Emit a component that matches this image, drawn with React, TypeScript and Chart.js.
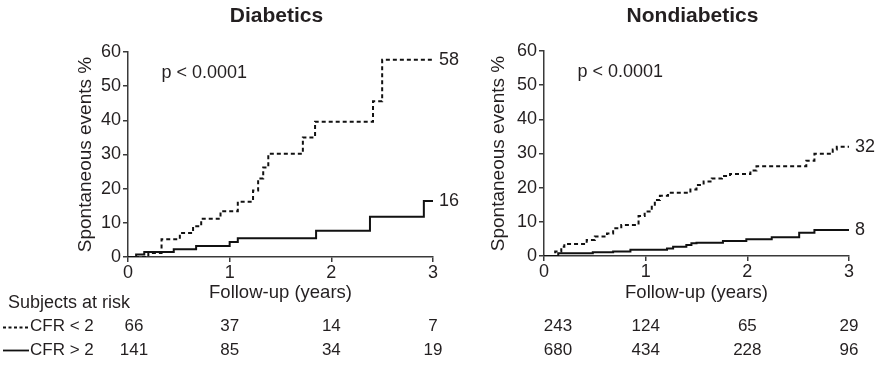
import React, { useEffect, useRef } from "react";
import { Chart, registerables } from "chart.js";

Chart.register(...registerables);

// ---------- data ----------
const yearTicks = [0, 1, 2, 3];

// Diabetics, CFR < 2 (dashed)
const diabLowT = [0, 0.2, 0.33, 0.51, 0.64, 0.72, 0.91, 1.08, 1.23, 1.28, 1.33, 1.38, 1.72, 1.84, 2.41, 2.5, 3.0];
const diabLowY = [0, 1.2, 5.2, 7.0, 9.0, 11.2, 13.4, 16.2, 19.5, 23.0, 26.2, 30.2, 35.0, 39.6, 45.6, 57.7, 57.7];
// Diabetics, CFR > 2 (solid)
const diabHighT = [0, 0.08, 0.16, 0.45, 0.67, 1.0, 1.08, 1.85, 2.38, 2.91, 3.0];
const diabHighY = [0, 0.7, 1.5, 2.3, 3.2, 4.4, 5.5, 7.7, 11.8, 16.4, 16.4];

// Nondiabetics, CFR < 2 (dashed)
const nonLowT = [0, 0.11, 0.17, 0.2, 0.42, 0.5, 0.62, 0.68, 0.76, 0.93, 0.99, 1.06, 1.09, 1.14, 1.22, 1.44, 1.5, 1.57, 1.65, 1.75, 1.83, 2.03, 2.09, 2.58, 2.66, 2.84, 2.88, 3.0];
const nonLowY = [0, 1.3, 2.7, 3.5, 4.7, 5.7, 6.6, 8.1, 9.1, 11.7, 13.0, 14.4, 16.4, 17.6, 18.5, 19.5, 20.8, 21.8, 22.7, 23.4, 24.0, 25.0, 26.3, 27.9, 29.9, 31.2, 32.0, 32.0];
// Nondiabetics, CFR > 2 (solid)
const nonHighT = [0, 0.14, 0.48, 0.68, 0.85, 1.21, 1.27, 1.4, 1.45, 1.5, 1.76, 1.99, 2.24, 2.51, 2.66, 3.0];
const nonHighY = [0, 0.8, 1.1, 1.3, 1.8, 2.2, 2.7, 3.2, 3.7, 3.9, 4.4, 4.9, 5.5, 6.8, 7.6, 7.6];

const endLabelsDiab = ["58", "16"];
const endLabelsNon = ["32", "8"];

const riskDiabLow = [66, 37, 14, 7];
const riskDiabHigh = [141, 85, 34, 19];
const riskNonLow = [243, 124, 65, 29];
const riskNonHigh = [680, 434, 228, 96];

const pText = "p < 0.0001";
const groupLabels = ["CFR < 2", "CFR > 2"];

// ---------- styling ----------
const FONT = "'Liberation Sans', Arial, Helvetica, sans-serif";
const INK = "#231f20";
const AXIS = "#3a3a3a";
const DASH = [4, 3];

type Panel = {
  title: string;
  lowT: number[];
  lowY: number[];
  highT: number[];
  highY: number[];
  endLabels: string[];
  riskLow: number[];
  riskHigh: number[];
  canvasWidth: number;
  padRight: number;
  padTop: number;
  yWidth: number;
  xHeight: number;
  yTitlePad: number;
  firstColOffset: number;
  showLegend: boolean;
};

const toPts = (t: number[], v: number[]) => t.map((x, i) => ({ x, y: v[i] }));

function buildChart(canvas: HTMLCanvasElement, p: Panel) {
  const extras = {
    id: "kmExtras",
    afterDraw(chart: any) {
      const { ctx, chartArea } = chart;
      const xs = chart.scales.x;
      const ys = chart.scales.y;
      ctx.save();
      ctx.fillStyle = INK;
      ctx.textBaseline = "middle";

      // panel title
      ctx.font = `bold 21px ${FONT}`;
      ctx.textAlign = "center";
      ctx.fillText(p.title, (chartArea.left + chartArea.right) / 2 - 4, 16);

      // p-value
      ctx.font = `18px ${FONT}`;
      ctx.textAlign = "left";
      ctx.fillText(pText, xs.getPixelForValue(0.33), ys.getPixelForValue(53.8));

      // end labels
      const ends = [
        [p.lowT[p.lowT.length - 1], p.lowY[p.lowY.length - 1]],
        [p.highT[p.highT.length - 1], p.highY[p.highY.length - 1]],
      ];
      ends.forEach(([t, v], i) => {
        ctx.fillText(p.endLabels[i], xs.getPixelForValue(t) + 6, ys.getPixelForValue(v));
      });

      // risk table numbers
      ctx.font = `17px ${FONT}`;
      ctx.textAlign = "center";
      const rowsY = [326.5, 350.5];
      [p.riskLow, p.riskHigh].forEach((row, r) => {
        row.forEach((n, i) => {
          const px = xs.getPixelForValue(yearTicks[i]) + (i === 0 ? p.firstColOffset : 0);
          ctx.fillText(String(n), px, rowsY[r]);
        });
      });

      if (p.showLegend) {
        ctx.textAlign = "left";
        ctx.font = `18px ${FONT}`;
        ctx.fillText("Subjects at risk", 8, 303.5);
        ctx.font = `17px ${FONT}`;
        ctx.fillText(groupLabels[0], 30, rowsY[0]);
        ctx.fillText(groupLabels[1], 30, rowsY[1]);
        ctx.strokeStyle = "#111";
        ctx.lineWidth = 1.8;
        ctx.setLineDash([3, 2.5]);
        ctx.beginPath();
        ctx.moveTo(3, rowsY[0] + 1);
        ctx.lineTo(29, rowsY[0] + 1);
        ctx.stroke();
        ctx.setLineDash([]);
        ctx.beginPath();
        ctx.moveTo(3, rowsY[1]);
        ctx.lineTo(29, rowsY[1]);
        ctx.stroke();
      }
      ctx.restore();
    },
  };

  const axisCommon = {
    type: "linear" as const,
    grid: {
      display: true,
      drawOnChartArea: false,
      drawTicks: true,
      tickLength: 5,
      color: AXIS,
      lineWidth: 1.5,
    },
    border: { display: true, color: AXIS, width: 1.5 },
  };

  return new Chart(canvas, {
    type: "line",
    data: {
      datasets: [
        {
          label: groupLabels[0],
          data: toPts(p.lowT, p.lowY),
          borderColor: "#111",
          borderWidth: 2,
          borderDash: DASH,
          stepped: "before",
          pointRadius: 0,
          fill: false,
        },
        {
          label: groupLabels[1],
          data: toPts(p.highT, p.highY),
          borderColor: "#111",
          borderWidth: 2,
          stepped: "before",
          pointRadius: 0,
          fill: false,
        },
      ],
    },
    options: {
      responsive: false,
      animation: false,
      devicePixelRatio: 1,
      layout: { padding: { left: 0, right: p.padRight, top: p.padTop, bottom: 0 } },
      plugins: { legend: { display: false }, tooltip: { enabled: false }, title: { display: false } },
      scales: {
        x: {
          ...axisCommon,
          min: 0,
          max: 3,
          afterBuildTicks: (s: any) => {
            s.ticks = yearTicks.map((v) => ({ value: v }));
          },
          ticks: { color: INK, font: { family: FONT, size: 18 }, padding: 0, maxRotation: 0 },
          title: {
            display: true,
            text: "Follow-up (years)",
            color: INK,
            font: { family: FONT, size: 18.5 },
            padding: { top: 0, bottom: 62.9 },
          },
          afterFit: (s: any) => {
            s.height = p.xHeight;
            s.paddingLeft = 0;
            s.paddingRight = 0;
          },
        },
        y: {
          ...axisCommon,
          min: 0,
          max: 60,
          ticks: { stepSize: 10, color: INK, font: { family: FONT, size: 18 }, padding: 2 },
          title: {
            display: true,
            text: "Spontaneous events %",
            color: INK,
            font: { family: FONT, size: 19 },
            padding: { top: p.yTitlePad, bottom: 0 },
          },
          afterFit: (s: any) => {
            s.width = p.yWidth;
            s.paddingTop = 0;
            s.paddingBottom = 0;
          },
        },
      },
    },
    plugins: [extras],
  } as any);
}

function KMPanel({ panel, left }: { panel: Panel; left: number }) {
  const ref = useRef<HTMLCanvasElement | null>(null);
  useEffect(() => {
    if (!ref.current) return;
    const chart = buildChart(ref.current, panel);
    return () => chart.destroy();
  }, [panel]);
  return (
    <canvas
      ref={ref}
      width={panel.canvasWidth}
      height={367}
      style={{
        position: "absolute",
        left,
        top: 0,
        width: panel.canvasWidth,
        height: 367,
        display: "block",
      }}
    />
  );
}

const diabPanel: Panel = {
  title: "Diabetics",
  lowT: diabLowT,
  lowY: diabLowY,
  highT: diabHighT,
  highY: diabHighY,
  endLabels: endLabelsDiab,
  riskLow: riskDiabLow,
  riskHigh: riskDiabHigh,
  canvasWidth: 480,
  padRight: 47,
  padTop: 52,
  yWidth: 128,
  xHeight: 110,
  yTitlePad: 74.6,
  firstColOffset: 6,
  showLegend: true,
};

const nonPanel: Panel = {
  title: "Nondiabetics",
  lowT: nonLowT,
  lowY: nonLowY,
  highT: nonHighT,
  highY: nonHighY,
  endLabels: endLabelsNon,
  riskLow: riskNonLow,
  riskHigh: riskNonHigh,
  canvasWidth: 440,
  padRight: 31,
  padTop: 51,
  yWidth: 104,
  xHeight: 111,
  yTitlePad: 47.1,
  firstColOffset: 14,
  showLegend: false,
};

export default function App() {
  return (
    <div
      style={{
        position: "absolute",
        left: 0,
        top: 0,
        width: 880,
        height: 367,
        background: "#ffffff",
        overflow: "hidden",
      }}
    >
      <KMPanel panel={diabPanel} left={0} />
      <KMPanel panel={nonPanel} left={440} />
    </div>
  );
}
